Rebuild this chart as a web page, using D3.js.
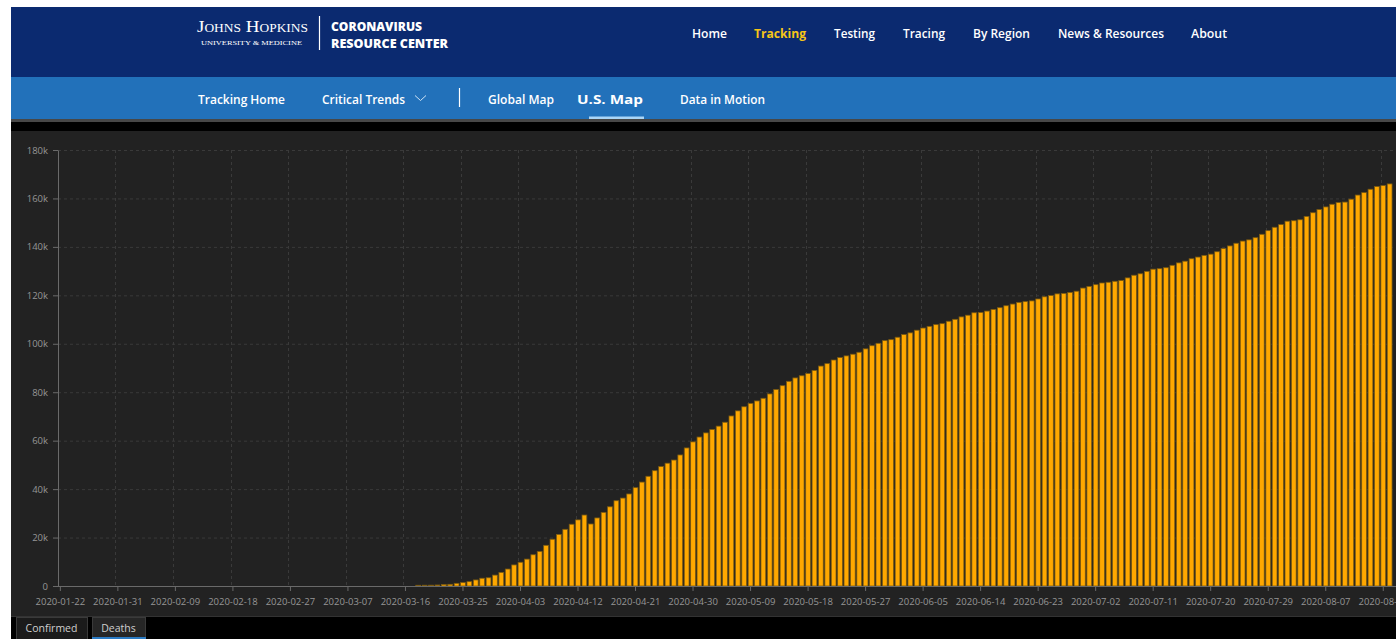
<!DOCTYPE html>
<html>
<head>
<meta charset="utf-8">
<script src="https://cdn.jsdelivr.net/npm/d3@7"></script>
<style>
  html, body { margin: 0; padding: 0; background: #fff; overflow: hidden; }
  svg { display: block; }
</style>
</head>
<body>
<svg id="page" width="1396" height="639"></svg>
<script>
// Cumulative U.S. deaths, one value per day starting 2020-01-22
const startDate = "2020-01-22";
const endDate = "2020-08-17";

const deaths = [
  0, 0, 0, 0, 0, 0, 0, 0, 0, 0,
  0, 0, 0, 0, 0, 0, 0, 0, 0, 0,
  0, 0, 0, 0, 0, 0, 0, 0, 0, 0,
  0, 0, 0, 0, 0, 0, 0, 0, 0, 0,
  0, 0, 0, 0, 0, 0, 0, 0, 0, 0,
  0, 0, 0, 0, 0, 0,
  300, 320, 340, 420, 600, 700, 1100, 1400, 1800, 2500,
  3200, 3400, 4500, 5600, 7000, 8700, 9800, 11100, 12900, 14300,
  16800, 19300, 21300, 23400, 25500, 27300, 29300, 25600, 28100, 30400,
  32700, 35200, 36300, 38000, 40600, 42900, 45300, 47600, 49300, 50700,
  52000, 54100, 57000, 59500, 61500, 63200, 64600, 66000, 67600, 70200,
  72300, 74000, 75400, 76400, 77500, 79300, 81100, 82700, 84500, 85900,
  86800, 87700, 89000, 90800, 91800, 93300, 94300, 95000, 95700, 96500,
  97900, 99200, 100200, 101300, 101700, 102700, 103800, 104500, 105600, 106500,
  107200, 107900, 108300, 109300, 110100, 111100, 111800, 112800, 112900, 113500,
  114200, 114900, 115700, 116400, 117100, 117400, 117700, 118500, 119400, 119900,
  120600, 120800, 121200, 121700, 123000, 123700, 124400, 125100, 125400, 125800,
  126100, 127200, 128300, 128900, 129900, 130800, 131000, 131400, 132400, 133400,
  134100, 135100, 135800, 136500, 137000, 138000, 139300, 140400, 141500, 142400,
  142900, 143800, 145200, 146700, 148100, 149200, 150600, 150800, 151200, 152600,
  154100, 155400, 156500, 157600, 158300, 158500, 159700, 161400, 162400, 163800,
  164900, 165300, 166000
];

const xTickLabels = [
  "2020-01-22", "2020-01-31", "2020-02-09", "2020-02-18", "2020-02-27", "2020-03-07",
  "2020-03-16", "2020-03-25", "2020-04-03", "2020-04-12", "2020-04-21", "2020-04-30",
  "2020-05-09", "2020-05-18", "2020-05-27", "2020-06-05", "2020-06-14", "2020-06-23",
  "2020-07-02", "2020-07-11", "2020-07-20", "2020-07-29", "2020-08-07", "2020-08-16"
];

const yTicks = [0, 20000, 40000, 60000, 80000, 100000, 120000, 140000, 160000, 180000];

const topNav = ["Home", "Tracking", "Testing", "Tracing", "By Region", "News & Resources", "About"];
const subNav = ["Tracking Home", "Critical Trends", "Global Map", "U.S. Map", "Data in Motion"];
const tabs = ["Confirmed", "Deaths"];

// category list: every day between start and end
const fmt = d3.utcFormat("%Y-%m-%d");
const dates = d3.utcDay.range(new Date(startDate + "T00:00Z"), d3.utcDay.offset(new Date(endDate + "T00:00Z"), 1)).map(fmt);
const rows = dates.map((d, i) => ({date: d, value: deaths[i]}));

const svg = d3.select("#page");

// ---- page chrome ----
svg.append("rect").attr("width", 1396).attr("height", 639).attr("fill", "#fff");
svg.append("rect").attr("x", 11).attr("y", 7).attr("width", 1385).attr("height", 70).attr("fill", "#0b2a70");
svg.append("rect").attr("x", 11).attr("y", 77).attr("width", 1385).attr("height", 42).attr("fill", "#2271ba");
svg.append("rect").attr("x", 11).attr("y", 119).attr("width", 1385).attr("height", 3).attr("fill", "#474747");
svg.append("rect").attr("x", 11).attr("y", 122).attr("width", 1385).attr("height", 9).attr("fill", "#000");
svg.append("rect").attr("x", 11).attr("y", 131).attr("width", 1385).attr("height", 486).attr("fill", "#222");
svg.append("rect").attr("x", 11).attr("y", 616).attr("width", 1385).attr("height", 1).attr("fill", "#333");
svg.append("rect").attr("x", 11).attr("y", 617).attr("width", 1385).attr("height", 22).attr("fill", "#000");

// logo
const logo = svg.append("g").attr("fill", "#fff");
logo.append("text")
    .attr("x", 197).attr("y", 32)
    .attr("font-family", "Liberation Serif, serif")
    .attr("font-size", 17)
    .style("font-variant", "small-caps")
    .attr("textLength", 111).attr("lengthAdjust", "spacingAndGlyphs")
    .text("Johns Hopkins");
logo.append("text")
    .attr("x", 201).attr("y", 44.5)
    .attr("font-family", "Liberation Serif, serif")
    .attr("font-size", 6.5)
    .attr("textLength", 101).attr("lengthAdjust", "spacingAndGlyphs")
    .text("UNIVERSITY & MEDICINE");
logo.append("line")
    .attr("x1", 319.5).attr("x2", 319.5).attr("y1", 16).attr("y2", 50)
    .attr("stroke", "#fff").attr("stroke-width", 1.2);
logo.append("text")
    .attr("x", 331).attr("y", 30.5)
    .attr("font-family", "Open Sans, sans-serif").attr("font-weight", 800)
    .attr("font-size", 11.5)
    .attr("textLength", 91).attr("lengthAdjust", "spacingAndGlyphs")
    .text("CORONAVIRUS");
logo.append("text")
    .attr("x", 331).attr("y", 47.5)
    .attr("font-family", "Open Sans, sans-serif").attr("font-weight", 800)
    .attr("font-size", 11.5)
    .attr("textLength", 117).attr("lengthAdjust", "spacingAndGlyphs")
    .text("RESOURCE CENTER");

// top navigation
const topX = [692, 754, 834, 903, 973, 1058, 1191];
const topW = [35, 52, 41, 42, 57, 106, 36];
svg.append("g").selectAll("text")
  .data(topNav)
  .join("text")
    .attr("x", (d, i) => topX[i]).attr("y", 38)
    .attr("font-family", "Open Sans, sans-serif")
    .attr("font-size", 12.5)
    .attr("font-weight", d => d === "Tracking" ? 700 : 600)
    .attr("fill", d => d === "Tracking" ? "#f5c518" : "#fff")
    .attr("textLength", (d, i) => topW[i]).attr("lengthAdjust", "spacingAndGlyphs")
    .text(d => d);

// secondary navigation
const subX = [198, 322, 488, 577, 680];
const subW = [87, 83, 66, 66, 85];
svg.append("g").selectAll("text")
  .data(subNav)
  .join("text")
    .attr("x", (d, i) => subX[i]).attr("y", 104)
    .attr("font-family", "Open Sans, sans-serif")
    .attr("font-size", 12.5)
    .attr("font-weight", d => d === "U.S. Map" ? 700 : 600)
    .attr("fill", "#fff")
    .attr("textLength", (d, i) => subW[i]).attr("lengthAdjust", "spacingAndGlyphs")
    .text(d => d);
svg.append("path")
    .attr("d", "M415,95.5L420.5,100.5L426,95.5")
    .attr("fill", "none").attr("stroke", "#cfe3f5").attr("stroke-width", 1);
svg.append("line")
    .attr("x1", 459.5).attr("x2", 459.5).attr("y1", 88).attr("y2", 107)
    .attr("stroke", "#fff").attr("stroke-width", 1.2);
svg.append("rect")
    .attr("x", 589).attr("y", 116.5).attr("width", 55).attr("height", 2.5)
    .attr("fill", "#a9d5f7");

// ---- chart ----
const margin = {left: 58, top: 150, bottom: 586};

const x = d3.scaleBand()
    .domain(dates)
    .range([57, 1393])
    .paddingInner(0.25)
    .paddingOuter(0.15);

const y = d3.scaleLinear()
    .domain([0, 180000])
    .range([margin.bottom, margin.top]);

const chart = svg.append("g");

// grid
chart.append("g").selectAll("line")
  .data(yTicks.filter(d => d > 0))
  .join("line")
    .attr("x1", margin.left).attr("x2", 1396)
    .attr("y1", d => y(d) + 0.5).attr("y2", d => y(d) + 0.5)
    .attr("stroke", "#3a3a3a").attr("stroke-dasharray", "3,3");

chart.append("g").selectAll("line")
  .data(xTickLabels.slice(1))
  .join("line")
    .attr("x1", d => Math.round(x(d)) + 0.5).attr("x2", d => Math.round(x(d)) + 0.5)
    .attr("y1", margin.top).attr("y2", margin.bottom)
    .attr("stroke", "#3a3a3a").attr("stroke-dasharray", "3,3");

// bars
chart.append("g").selectAll("rect")
  .data(rows.filter(d => d.value > 0))
  .join("rect")
    .attr("x", d => x(d.date))
    .attr("y", d => y(d.value))
    .attr("width", x.bandwidth())
    .attr("height", d => y(0) - y(d.value))
    .attr("fill", "#ffa800")
    .attr("stroke", "#7a5a12")
    .attr("stroke-width", 0.8);

// axes
const xAxis = g => g
    .attr("transform", `translate(0,${margin.bottom})`)
    .call(d3.axisBottom(x).tickValues(xTickLabels).tickSize(5).tickSizeOuter(0).tickPadding(7));

const yAxis = g => g
    .attr("transform", `translate(${margin.left},0)`)
    .call(d3.axisLeft(y).tickValues(yTicks).tickFormat(d3.format("~s")).tickSize(5).tickSizeOuter(0).tickPadding(5));

chart.append("g").call(xAxis)
    .call(g => g.select(".domain").attr("d", `M${margin.left},0.5H1396`));
chart.append("g").call(yAxis);

chart.selectAll(".domain, .tick line").attr("stroke", "#6a6a6a");
chart.selectAll(".tick text")
    .attr("fill", "#969696")
    .attr("font-family", "Open Sans, sans-serif")
    .attr("font-size", 9.5);

// ---- bottom tabs ----
const tabX = [16, 92];
const tabW = [71, 53];
const tabG = svg.append("g").selectAll("g")
  .data(tabs)
  .join("g");
tabG.append("rect")
    .attr("x", (d, i) => tabX[i] + 0.5).attr("y", 617.5)
    .attr("width", (d, i) => tabW[i]).attr("height", 22)
    .attr("fill", (d, i) => i === 1 ? "#262626" : "#1b1b1b")
    .attr("stroke", "#3a3a3a");
tabG.filter((d, i) => i === 1).append("rect")
    .attr("x", 92).attr("y", 637).attr("width", 54).attr("height", 2)
    .attr("fill", "#2b7bc4");
tabG.append("text")
    .attr("x", (d, i) => tabX[i] + tabW[i] / 2).attr("y", 632)
    .attr("text-anchor", "middle")
    .attr("font-family", "Open Sans, sans-serif")
    .attr("font-size", 10.5)
    .attr("fill", "#cfcfcf")
    .text(d => d);
</script>
</body>
</html>
